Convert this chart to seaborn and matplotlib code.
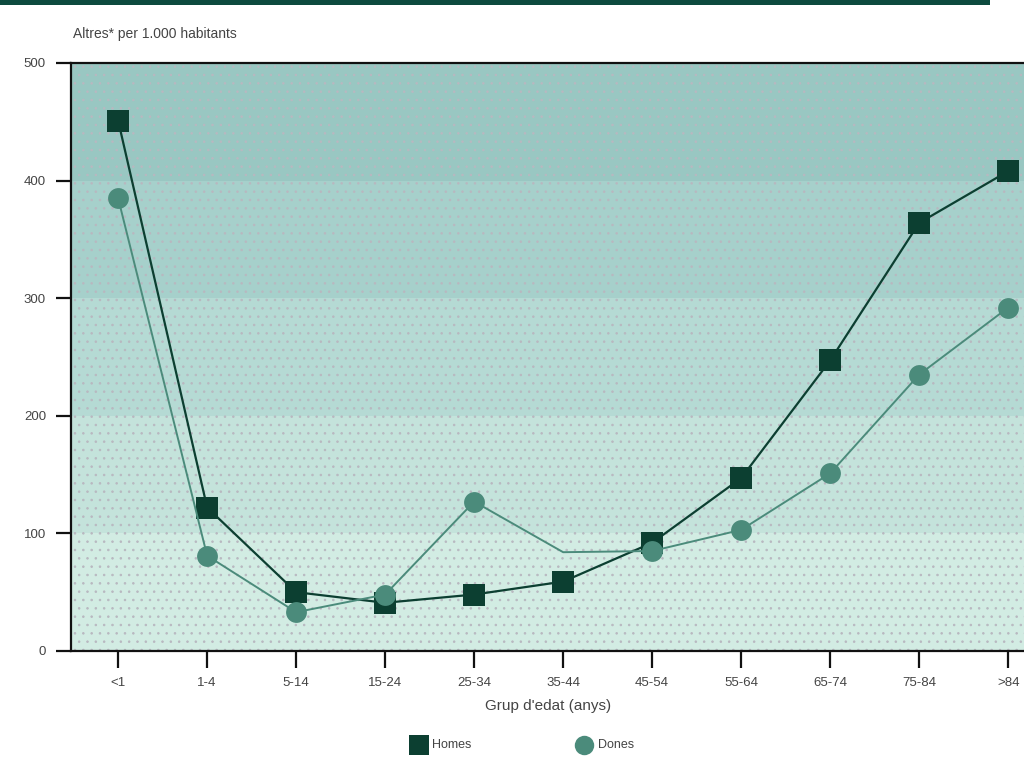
import matplotlib
matplotlib.use("Agg")
from matplotlib import pyplot as plt
from matplotlib.patches import Rectangle
import pandas as pd
import seaborn as sns

grups = ['<1', '1-4', '5-14', '15-24', '25-34', '35-44', '45-54', '55-64', '65-74', '75-84', '>84']
homes = [451, 122, 50, 41, 48, 59, 92, 147, 247, 364, 408]
dones = [385, 81, 33, 48, 127, 84, 85, 103, 151, 235, 292]
y_ticks = [0, 100, 200, 300, 400, 500]

df = pd.DataFrame({'grup': grups, 'Homes': homes, 'Dones': dones})

sns.set_style("white")
plt.rcParams['font.family'] = ['Liberation Sans', 'DejaVu Sans']
plt.rcParams['hatch.linewidth'] = 0.6

fig = plt.figure(figsize=(10.24, 7.83), dpi=100)
ax = fig.add_axes([0.0693, 0.1686, 0.9587, 0.7510])

# banded background, darker towards the top
bands = ['#d2ece3', '#c4e3db', '#b5dad4', '#a6d0cb', '#99c7c2']
for i, c in enumerate(bands):
    ax.axhspan(i * 100, (i + 1) * 100, facecolor=c, edgecolor='#b8b8c0',
               hatch='..', linewidth=0, zorder=0)

sns.lineplot(data=df, x='grup', y='Homes', ax=ax, color='#0c3f31', linewidth=1.6,
             marker='s', markersize=16, markeredgewidth=0, zorder=3, sort=False)
sns.lineplot(data=df, x='grup', y='Dones', ax=ax, color='#4b8b7b', linewidth=1.4,
             marker='o', markersize=15, markeredgewidth=0, zorder=4, sort=False,
             markevery=[0, 1, 2, 3, 4, 6, 7, 8, 9, 10])

ax.set_xlim(-0.53, 10.5)
ax.set_ylim(0, 500)
ax.set_yticks(y_ticks)
ax.set_xticks(range(len(grups)))
ax.set_xticklabels(grups)
ax.set_xlabel('')
ax.set_ylabel('')

for s in ['left', 'bottom', 'top']:
    ax.spines[s].set_color('#111111')
    ax.spines[s].set_linewidth(1.6)
ax.spines['right'].set_visible(False)
ax.tick_params(axis='y', direction='out', length=11, width=1.6, color='#111111',
               labelsize=9.5, labelcolor='#444444', pad=7, left=True)
ax.tick_params(axis='x', direction='out', length=12, width=1.6, color='#111111',
               labelsize=9.5, labelcolor='#444444', pad=7, bottom=True)

fig.text(0.071, 0.957, "Altres* per 1.000 habitants", fontsize=10, color='#444444',
         ha='left', va='center')
fig.text(0.535, 0.098, "Grup d'edat (anys)", fontsize=11, color='#444444',
         ha='center', va='center')

# legend drawn by hand below the axis title
fig.add_artist(plt.Line2D([0.4095], [0.0485], marker='s', markersize=15, color='#0c3f31',
                          markeredgewidth=0, linestyle='none', transform=fig.transFigure))
fig.text(0.4215, 0.0485, "Homes", fontsize=9, color='#444444', ha='left', va='center')
fig.add_artist(plt.Line2D([0.5705], [0.0485], marker='o', markersize=14, color='#4b8b7b',
                          markeredgewidth=0, linestyle='none', transform=fig.transFigure))
fig.text(0.584, 0.0485, "Dones", fontsize=9, color='#444444', ha='left', va='center')

# dark band across the top
fig.add_artist(Rectangle((0, 0.994), 0.967, 0.006, transform=fig.transFigure,
                         facecolor='#0d4a3e', edgecolor='none'))

fig.savefig('out.png', dpi=100)
